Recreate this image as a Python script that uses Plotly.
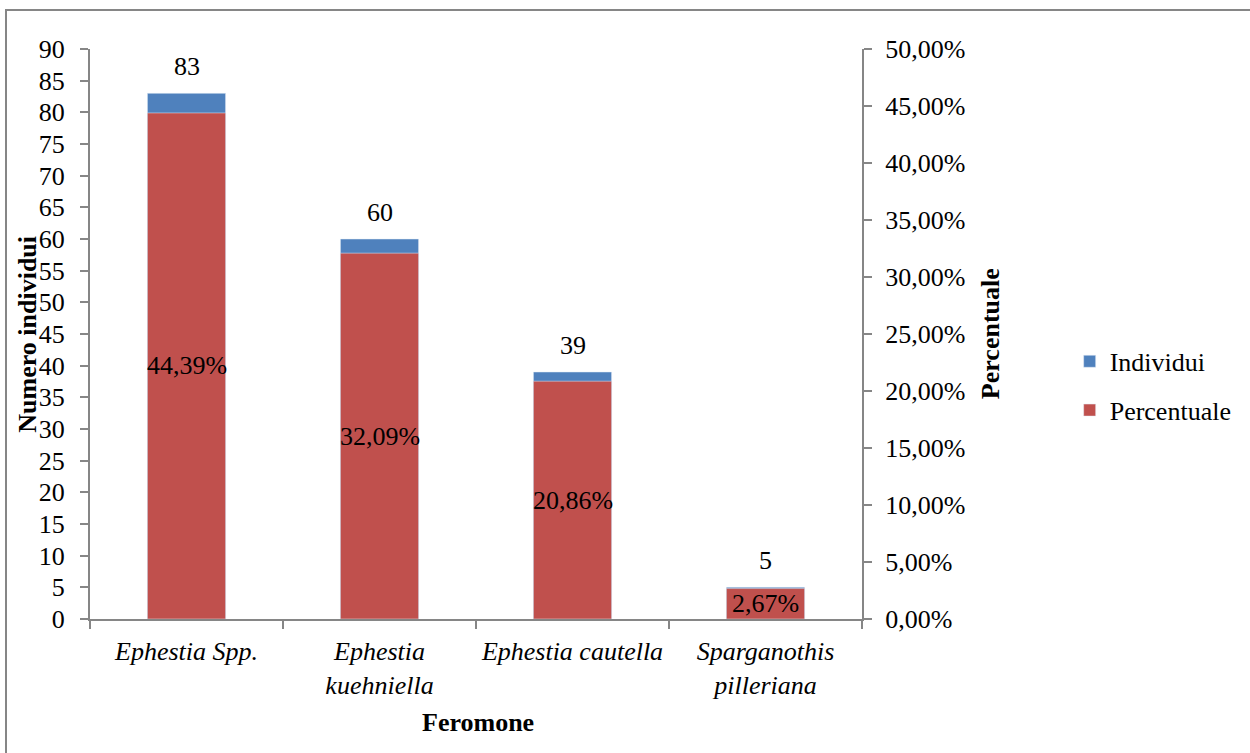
import plotly.graph_objects as go

# Catture per feromone
categorie = ["Ephestia Spp.", "Ephestia<br>kuehniella", "Ephestia cautella", "Sparganothis<br>pilleriana"]
individui = [83, 60, 39, 5]
percentuale = [0.4439, 0.3209, 0.2086, 0.0267]

BLU = "#4F81BD"
ROSSO = "#C0504D"
GRIGIO = "#868686"
FONT = "Liberation Serif"
FS = 26

fig = go.Figure()
fig.add_trace(go.Bar(x=categorie, y=individui, name="Individui", marker_color=BLU,
                     yaxis="y", legendgroup="a"))
fig.add_trace(go.Bar(x=categorie, y=percentuale, name="Percentuale", marker_color=ROSSO,
                     yaxis="y2", legendgroup="b"))

annotazioni = []
for c, v in zip(categorie, individui):
    annotazioni.append(dict(x=c, y=v, xref="x", yref="y", text=str(v), showarrow=False,
                            yanchor="bottom", yshift=10, font=dict(family=FONT, size=FS, color="black")))
for c, p in zip(categorie, percentuale):
    testo = f"{p * 100:.2f}%".replace(".", ",")
    annotazioni.append(dict(x=c, y=p / 2, xref="x", yref="y2", text=testo, showarrow=False,
                            yanchor="middle", font=dict(family=FONT, size=FS, color="black")))

# titoli degli assi
annotazioni.append(dict(x=-0.082, y=0.5, xref="paper", yref="paper", text="<b>Numero individui</b>",
                        textangle=-90, showarrow=False, xanchor="center", yanchor="middle",
                        font=dict(family=FONT, size=FS, color="black")))
annotazioni.append(dict(x=1.166, y=0.5, xref="paper", yref="paper", text="<b>Percentuale</b>",
                        textangle=-90, showarrow=False, xanchor="center", yanchor="middle",
                        font=dict(family=FONT, size=FS, color="black")))
annotazioni.append(dict(x=0.502, y=-0.181, xref="paper", yref="paper", text="<b>Feromone</b>",
                        showarrow=False, xanchor="center", yanchor="middle",
                        font=dict(family=FONT, size=FS, color="black")))

fig.update_layout(
    width=1250, height=753,
    margin=dict(l=90, r=388, t=49, b=134, autoexpand=False),
    paper_bgcolor="white", plot_bgcolor="white",
    separators=",.",
    barmode="overlay", bargap=0.595,
    font=dict(family=FONT, size=FS, color="black"),
    xaxis=dict(showline=True, linecolor=GRIGIO, linewidth=2, ticks="outside", tickson="boundaries",
               ticklen=8, tickcolor=GRIGIO, tickwidth=2, showgrid=False, ticklabelstandoff=8,
               tickfont=dict(family=FONT, size=FS, style="italic", color="black")),
    yaxis=dict(range=[0, 90], dtick=5, showline=True, linecolor=GRIGIO, linewidth=2, ticks="outside",
               ticklen=8, tickcolor=GRIGIO, tickwidth=2, showgrid=False, zeroline=False,
               ticklabelstandoff=10, tickfont=dict(family=FONT, size=FS, color="black")),
    yaxis2=dict(range=[0, 0.5], dtick=0.05, tickformat=".2%", overlaying="y", side="right",
                showline=True, linecolor=GRIGIO, linewidth=2, ticks="outside", ticklen=8,
                tickcolor=GRIGIO, tickwidth=2, showgrid=False, zeroline=False,
                ticklabelstandoff=8, tickfont=dict(family=FONT, size=FS, color="black")),
    legend=dict(x=1.269, y=0.409, xanchor="left", yanchor="middle", traceorder="grouped",
                tracegroupgap=12, itemwidth=30, font=dict(family=FONT, size=FS, color="black"),
                bgcolor="rgba(0,0,0,0)"),
    annotations=annotazioni,
    shapes=[dict(type="rect", xref="paper", yref="paper", x0=-0.1088, x1=1.7, y0=-0.4, y1=1.0684,
                 line=dict(color=GRIGIO, width=2), fillcolor="rgba(0,0,0,0)", layer="below")],
)

fig.write_html("out.html")
